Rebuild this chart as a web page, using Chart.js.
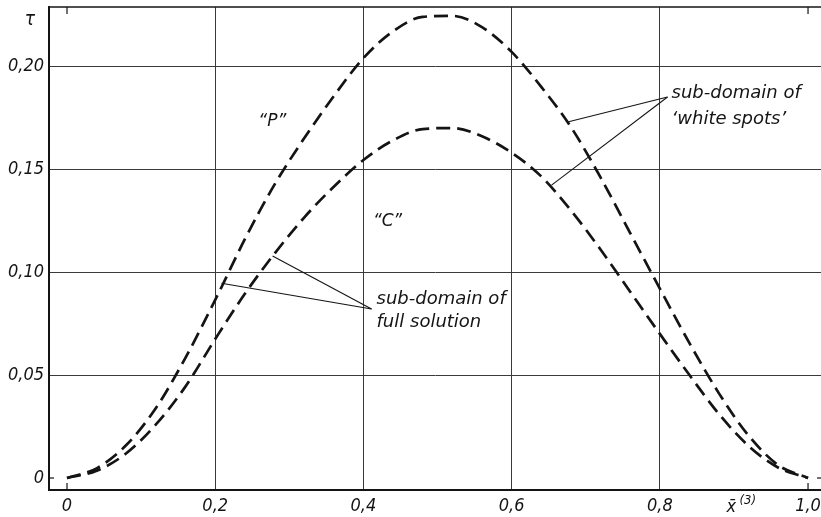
<!DOCTYPE html>
<html>
<head>
<meta charset="utf-8">
<script src="https://cdn.jsdelivr.net/npm/chart.js@4/dist/chart.umd.min.js"></script>
<style>
  html, body { margin: 0; padding: 0; background: #fff; }
  #wrap { width: 821px; height: 517px; }
</style>
</head>
<body>
<div id="wrap"><canvas id="c" width="821" height="517"></canvas></div>
<script>
// Coordinate x̄(3), shared by both curves
const xs   = [0, 0.04, 0.08, 0.12, 0.16, 0.20, 0.24, 0.28, 0.32, 0.36, 0.40, 0.44, 0.48,
              0.52, 0.56, 0.60, 0.64, 0.68, 0.72, 0.76, 0.80, 0.84, 0.88, 0.92, 0.96, 1.00];
// Curve "P": tau
const pTau = [0, 0.0047, 0.0160, 0.0340, 0.0585, 0.0865, 0.1160, 0.1425, 0.1650, 0.1855, 0.2040, 0.2170, 0.2240,
              0.2245, 0.2190, 0.2070, 0.1900, 0.1705, 0.1460, 0.1190, 0.0920, 0.0655, 0.0410, 0.0205, 0.0062, 0];
// Curve "C": tau
const cTau = [0, 0.0035, 0.0120, 0.0260, 0.0445, 0.0675, 0.0895, 0.1090, 0.1265, 0.1415, 0.1545, 0.1640, 0.1695,
              0.1700, 0.1660, 0.1580, 0.1465, 0.1300, 0.1110, 0.0905, 0.0700, 0.0500, 0.0310, 0.0155, 0.0050, 0];

// Axis ticks and their printed labels
const xTicks = [0, 0.2, 0.4, 0.6, 0.8, 1.0];
const xTickLabels = ['0', '0,2', '0,4', '0,6', '0,8', '1,0'];
const yTicks = [0, 0.05, 0.10, 0.15, 0.20];
const yTickLabels = ['0', '0,05', '0,10', '0,15', '0,20'];

// Curve names and annotation texts
const curveNames = ['\u201CP\u201D', '\u201CC\u201D'];
const noteWhite = ['sub-domain of', '\u2018white spots\u2019'];
const noteFull = ['sub-domain of', 'full solution'];

const ink = '#141414';
const gridInk = '#3a3a3a';
const tickFamily = "'DejaVu Sans Condensed', 'DejaVu Sans', sans-serif";
const noteFamily = "'DejaVu Sans', sans-serif";

const toPoints = (x, y) => x.map((v, i) => ({ x: v, y: y[i] }));

// Annotation placement, in data units
const labelSpots = [
  { text: curveNames[0], x: 0.277, y: 0.173 },
  { text: curveNames[1], x: 0.4325, y: 0.1248 }
];
const noteBlocks = [
  { lines: noteWhite, x: 0.8158, y: 0.1846, lead: 0.0125,
    hub: { x: 0.8104, y: 0.1851 }, ends: [{ x: 0.6755, y: 0.1729 }, { x: 0.6539, y: 0.1423 }] },
  { lines: noteFull, x: 0.4177, y: 0.0845, lead: 0.0112,
    hub: { x: 0.411, y: 0.0821 }, ends: [{ x: 0.2085, y: 0.0946 }, { x: 0.2774, y: 0.1078 }] }
];

const decorations = {
  id: 'decorations',
  afterDraw(chart) {
    const { ctx, chartArea: a, scales: { x, y } } = chart;
    const X = v => x.getPixelForValue(v);
    const Y = v => y.getPixelForValue(v);
    const seg = (x1, y1, x2, y2) => { ctx.beginPath(); ctx.moveTo(x1, y1); ctx.lineTo(x2, y2); ctx.stroke(); };
    ctx.save();
    ctx.strokeStyle = ink;
    ctx.fillStyle = ink;

    // upper frame line
    ctx.lineWidth = 1.6;
    seg(a.left, a.top, chart.width, a.top);

    // short inward ticks at both ends of the range
    ctx.lineWidth = 1.2;
    [xTicks[0], xTicks[xTicks.length - 1]].forEach(v => {
      seg(X(v), a.top, X(v), a.top + 7);
      seg(X(v), a.bottom, X(v), a.bottom - 7);
    });
    seg(a.left, Y(0), a.left + 5, Y(0));
    seg(a.right - 4, Y(0), a.right, Y(0));

    // curve names
    ctx.font = `italic 17px ${noteFamily}`;
    ctx.textAlign = 'center';
    ctx.textBaseline = 'middle';
    labelSpots.forEach(s => ctx.fillText(s.text, X(s.x), Y(s.y)));

    // notes with leader lines
    ctx.font = `italic 18px ${noteFamily}`;
    ctx.textAlign = 'left';
    ctx.textBaseline = 'alphabetic';
    ctx.lineWidth = 1.1;
    noteBlocks.forEach(n => {
      n.lines.forEach((t, i) => ctx.fillText(t, X(n.x), Y(n.y - i * n.lead)));
      n.ends.forEach(e => seg(X(n.hub.x), Y(n.hub.y), X(e.x), Y(e.y)));
    });

    // axis titles
    ctx.font = `italic 19px ${tickFamily}`;
    ctx.textAlign = 'center';
    ctx.textBaseline = 'middle';
    ctx.fillText('\u03C4', a.left - 19, a.top + 13);

    ctx.font = `italic 18px ${tickFamily}`;
    ctx.textAlign = 'left';
    ctx.textBaseline = 'alphabetic';
    const tx = X(0.89), ty = a.bottom + 22;
    ctx.fillText('x\u0304', tx, ty);
    ctx.font = `italic 13px ${tickFamily}`;
    ctx.fillText('(3)', tx + 13, ty - 8);
    ctx.restore();
  }
};

new Chart(document.getElementById('c'), {
  type: 'scatter',
  data: {
    datasets: [
      { label: 'P', data: toPoints(xs, pTau) },
      { label: 'C', data: toPoints(xs, cTau) }
    ].map(d => Object.assign(d, {
      showLine: true,
      borderColor: ink,
      borderWidth: 2.7,
      borderDash: [14, 7],
      borderCapStyle: 'butt',
      pointRadius: 0,
      fill: false,
      cubicInterpolationMode: 'monotone'
    }))
  },
  options: {
    responsive: false,
    animation: false,
    devicePixelRatio: 1,
    layout: { padding: { top: 7, right: 0, bottom: 0, left: 0 } },
    plugins: { legend: { display: false }, tooltip: { enabled: false } },
    scales: {
      x: {
        type: 'linear',
        min: -0.0243,
        max: 1.0175,
        afterBuildTicks: s => { s.ticks = xTicks.map(v => ({ value: v })); },
        afterFit: s => { s.height = 27; s.paddingLeft = 0; s.paddingRight = 0; },
        grid: {
          drawTicks: false,
          lineWidth: 1,
          color: c => (c.tick && (c.tick.value === 0 || c.tick.value === 1)) ? 'rgba(0,0,0,0)' : gridInk
        },
        border: { display: true, color: ink, width: 2 },
        ticks: {
          autoSkip: false,
          maxRotation: 0,
          padding: 6,
          color: ink,
          font: { family: tickFamily, size: 18, style: 'italic' },
          callback: (v, i) => xTickLabels[i]
        }
      },
      y: {
        type: 'linear',
        min: -0.00583,
        max: 0.2288,
        afterBuildTicks: s => { s.ticks = yTicks.map(v => ({ value: v })); },
        afterFit: s => { s.width = 49; s.paddingTop = 0; s.paddingBottom = 0; },
        grid: {
          drawTicks: false,
          lineWidth: 1,
          color: c => (c.tick && c.tick.value === 0) ? 'rgba(0,0,0,0)' : gridInk
        },
        border: { display: true, color: ink, width: 2 },
        ticks: {
          padding: 5,
          color: ink,
          font: { family: tickFamily, size: 18, style: 'italic' },
          callback: (v, i) => yTickLabels[i]
        }
      }
    }
  },
  plugins: [decorations]
});
</script>
</body>
</html>
